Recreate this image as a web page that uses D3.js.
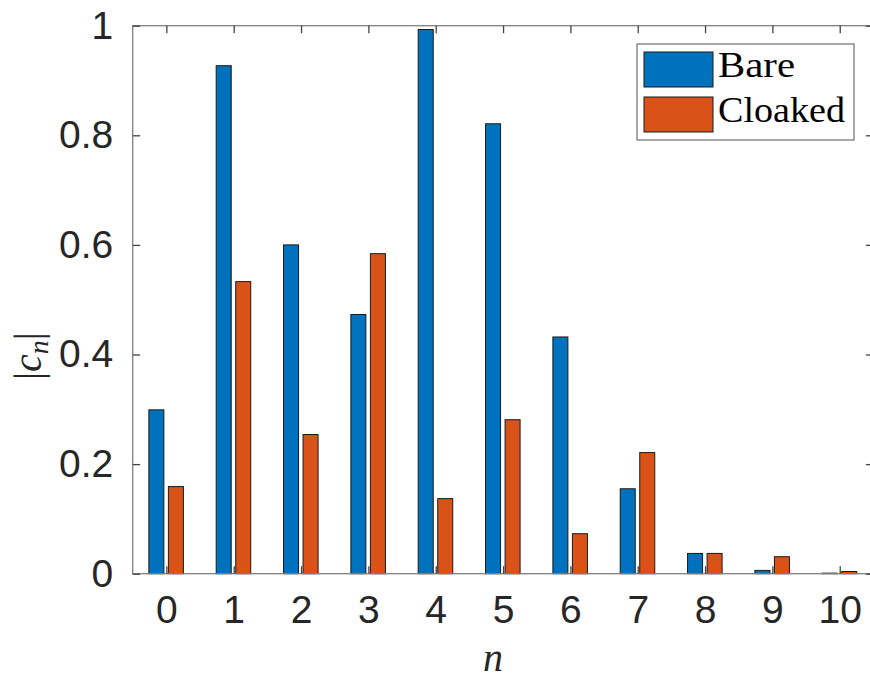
<!DOCTYPE html>
<html><head><meta charset="utf-8">
<script src="https://cdn.jsdelivr.net/npm/d3@7"></script>
<style>body{margin:0;background:#fff}svg{display:block}</style>
</head><body><svg id="c" width="870" height="682"></svg>
<script>
const categories = [0,1,2,3,4,5,6,7,8,9,10];
const bare =    [0.299,0.927,0.600,0.473,0.993,0.821,0.432,0.155,0.037,0.006,0.001];
const cloaked = [0.159,0.533,0.254,0.584,0.137,0.281,0.073,0.221,0.037,0.031,0.004];
const seriesNames = ["Bare","Cloaked"];
const yTicks = [0,0.2,0.4,0.6,0.8,1];
const yTickLabels = ["0","0.2","0.4","0.6","0.8","1"];

const colors = ["#0072BD","#D95319"];
const svg = d3.select("#c");
const L=132.7, R=873.4, T=25.7, B=573.7;
const x = d3.scaleLinear().domain([-0.5,10.5]).range([L,R]);
const y = d3.scaleLinear().domain([0,1]).range([B,T]);
const step = x(1)-x(0);
const bw = step*0.223;
const off = [-step*0.26, step*0.03];

const series=[bare,cloaked];
series.forEach((vals,si)=>{
  svg.append("g").selectAll("rect").data(vals).join("rect")
    .attr("x",(d,i)=>x(categories[i])+off[si])
    .attr("width",bw)
    .attr("y",d=>y(d))
    .attr("height",d=>y(0)-y(d))
    .attr("fill",colors[si]).attr("stroke","#1a1a1a").attr("stroke-width",1);
});

// axes box
const ax = svg.append("g");
ax.append("rect").attr("x",L).attr("y",T).attr("width",R-L).attr("height",B-T)
  .attr("fill","none").attr("stroke","#808080").attr("stroke-width",1.3);
const tl=7.5;
const xb = d3.axisBottom(x).tickValues(categories).tickSize(-tl).tickPadding(tl+14).tickFormat(d3.format("d"));
const xt = d3.axisTop(x).tickValues(categories).tickSize(-tl).tickFormat("");
const yl = d3.axisLeft(y).tickValues(yTicks).tickSize(-tl).tickPadding(tl+12).tickFormat((d,i)=>yTickLabels[i]);
const yr = d3.axisRight(y).tickValues(yTicks).tickSize(-tl).tickFormat("");
function style(g){
  g.select(".domain").remove();
  g.selectAll(".tick line").attr("stroke","#444").attr("stroke-width",1.3);
  g.selectAll(".tick text").attr("fill","#262626").attr("font-family","Liberation Sans, Arial, sans-serif").attr("font-size",39);
}
ax.append("g").attr("transform",`translate(0,${B})`).call(xb).call(style);
ax.append("g").attr("transform",`translate(0,${T})`).call(xt).call(style);
ax.append("g").attr("transform",`translate(${L},0)`).call(yl).call(style);
ax.append("g").attr("transform",`translate(${R},0)`).call(yr).call(style);

// axis labels
const yLab = svg.append("text").attr("transform","translate(41,356) rotate(-90)")
  .attr("text-anchor","middle").attr("font-family","Liberation Serif, Times New Roman, serif").attr("font-size",40).attr("fill","#262626");
yLab.append("tspan").text("|");
yLab.append("tspan").attr("font-style","italic").text("c");
yLab.append("tspan").attr("font-style","italic").attr("font-size",28).attr("dy",7).text("n");
yLab.append("tspan").attr("dy",-7).text("|");

svg.append("text").attr("x",493).attr("y",671).attr("text-anchor","middle")
  .attr("font-family","Liberation Serif, Times New Roman, serif").attr("font-style","italic")
  .attr("font-size",40).attr("fill","#262626").text("n");

// legend
const lg = svg.append("g");
lg.append("rect").attr("x",637).attr("y",44).attr("width",217).attr("height",96)
  .attr("fill","#fff").attr("stroke","#7a7a7a").attr("stroke-width",1.3);
const legLen = [77,127];
seriesNames.forEach((n,i)=>{
  const yy = 52 + i*45;
  lg.append("rect").attr("x",644).attr("y",yy).attr("width",69).attr("height",35)
    .attr("fill",colors[i]).attr("stroke","#1a1a1a").attr("stroke-width",1);
  lg.append("text").attr("x",718).attr("y",yy+25).attr("font-family","Liberation Serif, Times New Roman, serif")
    .attr("font-size",35).attr("fill","#000")
    .attr("textLength",legLen[i]).attr("lengthAdjust","spacingAndGlyphs").text(n);
});
</script></body></html>
